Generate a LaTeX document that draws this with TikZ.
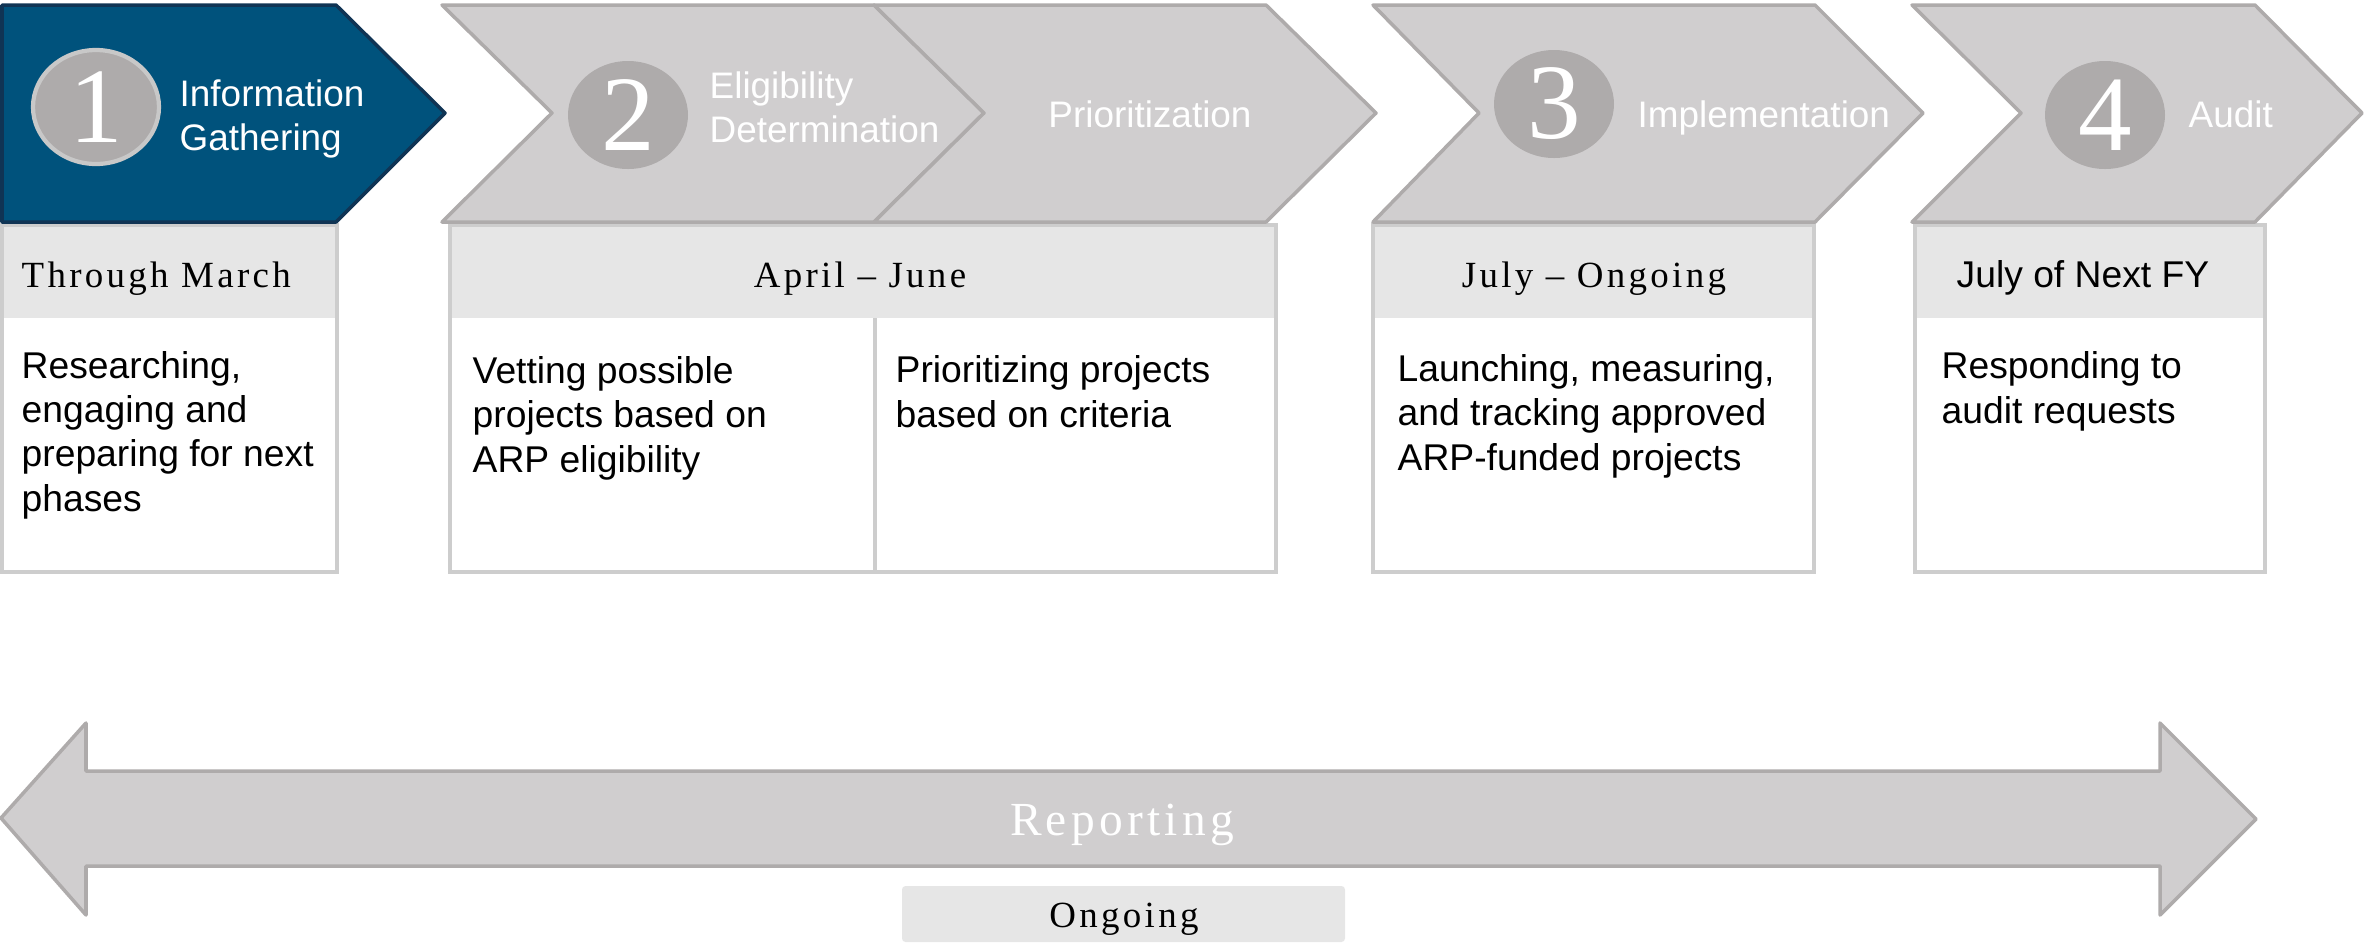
\documentclass[tikz,border=0pt]{standalone}
\usepackage{fontspec}
\setmainfont{Liberation Sans}
\newfontfamily\numserif{Liberation Serif}
\newfontfamily\spacedserif[LetterSpace=9]{Liberation Serif}
\usepackage{tikz}
\usetikzlibrary{shapes,positioning}
\definecolor{stageblue}{RGB}{0,82,124}
\definecolor{stagenavy}{RGB}{16,52,84}
\definecolor{stagegray}{RGB}{208,206,207}
\definecolor{edgegray}{RGB}{174,171,171}
\definecolor{ballrim}{RGB}{200,200,200}
\definecolor{headgray}{RGB}{230,230,230}
\definecolor{cardline}{RGB}{205,205,205}

\begin{document}
\begin{tikzpicture}[
    stage/.style={draw=edgegray, fill=stagegray, line width=1pt, line join=round},
    stagesel/.style={draw=stagenavy, fill=stageblue, line width=1pt, line join=round},
    ball/.style={ellipse, fill=edgegray, minimum width=1.2cm, minimum height=1.08cm, inner sep=0pt, text=white, font=\numserif\fontsize{30.5}{30.5}\selectfont},
    stagelbl/.style={text=white, align=left, inner sep=0pt, font=\fontsize{10.5}{12.5}\selectfont},
    card/.style={draw=cardline, line width=0.9pt},
    datetxt/.style={inner sep=0pt, font=\spacedserif\fontsize{10.5}{12}\selectfont},
    bodytxt/.style={anchor=base west, align=left, inner sep=0pt, font=\fontsize{10.6}{12.6}\selectfont}
]
\useasboundingbox (0,0) rectangle (23.66,-9.43);

% Cards below the stages
\fill[headgray] (0.02,-2.25) rectangle (3.37,-3.18);
\draw[card] (0.02,-2.25) rectangle (3.37,-5.72);
\fill[headgray] (4.50,-2.25) rectangle (12.76,-3.18);
\draw[card] (4.50,-2.25) rectangle (12.76,-5.72);
\draw[card] (8.75,-3.18) -- (8.75,-5.72);
\fill[headgray] (13.73,-2.25) rectangle (18.14,-3.18);
\draw[card] (13.73,-2.25) rectangle (18.14,-5.72);
\fill[headgray] (19.15,-2.25) rectangle (22.65,-3.18);
\draw[card] (19.15,-2.25) rectangle (22.65,-5.72);

% Stage chevrons
\draw[stagesel] (0.02,-0.05) -- (3.36,-0.05) -- (4.45,-1.13) -- (3.36,-2.22) -- (0.02,-2.22) -- cycle;
\draw[stage] (4.42,-0.05) -- (8.74,-0.05) -- (9.84,-1.13) -- (8.74,-2.22) -- (4.42,-2.22) -- (5.52,-1.13) -- cycle;
\draw[stage] (8.74,-0.05) -- (12.66,-0.05) -- (13.76,-1.13) -- (12.66,-2.22) -- (8.74,-2.22) -- (9.84,-1.13) -- cycle;
\draw[stage] (13.73,-0.05) -- (18.15,-0.05) -- (19.23,-1.13) -- (18.15,-2.22) -- (13.73,-2.22) -- (14.79,-1.13) -- cycle;
\draw[stage] (19.12,-0.05) -- (22.55,-0.05) -- (23.62,-1.13) -- (22.55,-2.22) -- (19.12,-2.22) -- (20.21,-1.13) -- cycle;

% Numbers
\node[ball, draw=ballrim, line width=1.2pt, minimum width=1.26cm, minimum height=1.14cm] (n1) at (0.96,-1.07) {1};
\node[ball] (n2) at (6.28,-1.15) {2};
\node[ball] (n3) at (15.54,-1.04) {3};
\node[ball] (n4) at (21.05,-1.15) {4};

% Stage names
\node[stagelbl, anchor=base west] (s1) at (1.79,-1.50) {Information\\Gathering};
\node[stagelbl, anchor=base west] (s2) at (7.09,-1.42) {Eligibility\\Determination};
\node[stagelbl, anchor=base] (s2b) at (11.50,-1.27) {Prioritization};
\node[stagelbl, anchor=base west] (s3) at (16.37,-1.27) {Implementation};
\node[stagelbl, anchor=base west] (s4) at (21.88,-1.27) {Audit};

% Dates
\node[datetxt, anchor=base west] (d1) at (0.21,-2.87) {Through March};
\node[datetxt, anchor=base] (d2) at (8.60,-2.87) {April \textendash\ June};
\node[datetxt, anchor=base] (d3) at (15.94,-2.87) {July \textendash\ Ongoing};
\node[inner sep=0pt, anchor=base west, font=\fontsize{10.6}{12}\selectfont] (d4) at (19.56,-2.87) {July of Next FY};

% Descriptions
\node[bodytxt] (b1) at (0.21,-5.11) {Researching,\\engaging and\\preparing for next\\phases};
\node[bodytxt] (b2) at (4.72,-4.72) {Vetting possible\\projects based on\\ARP eligibility};
\node[bodytxt] (b2b) at (8.95,-4.27) {Prioritizing projects\\based on criteria};
\node[bodytxt] (b3) at (13.97,-4.70) {Launching, measuring,\\and tracking approved\\ARP-funded projects};
\node[bodytxt] (b4) at (19.41,-4.23) {Responding to\\audit requests};

% Reporting arrow
\draw[stage] (0.01,-8.18) -- (0.86,-7.23) -- (0.86,-7.71) -- (21.60,-7.71) -- (21.60,-7.23) -- (22.56,-8.19)
    -- (21.60,-9.15) -- (21.60,-8.66) -- (0.86,-8.66) -- (0.86,-9.15) -- cycle;
\node[datetxt, anchor=base, text=white, font=\spacedserif\fontsize{13.5}{14}\selectfont] (rep) at (11.22,-8.35) {Reporting};
\node[fill=headgray, minimum width=4.43cm, minimum height=0.56cm, rounded corners=1pt] (ongo) at (11.235,-9.14) {};
\node[datetxt, anchor=base] (ongotxt) at (11.24,-9.27) {Ongoing};

\end{tikzpicture}
\end{document}
